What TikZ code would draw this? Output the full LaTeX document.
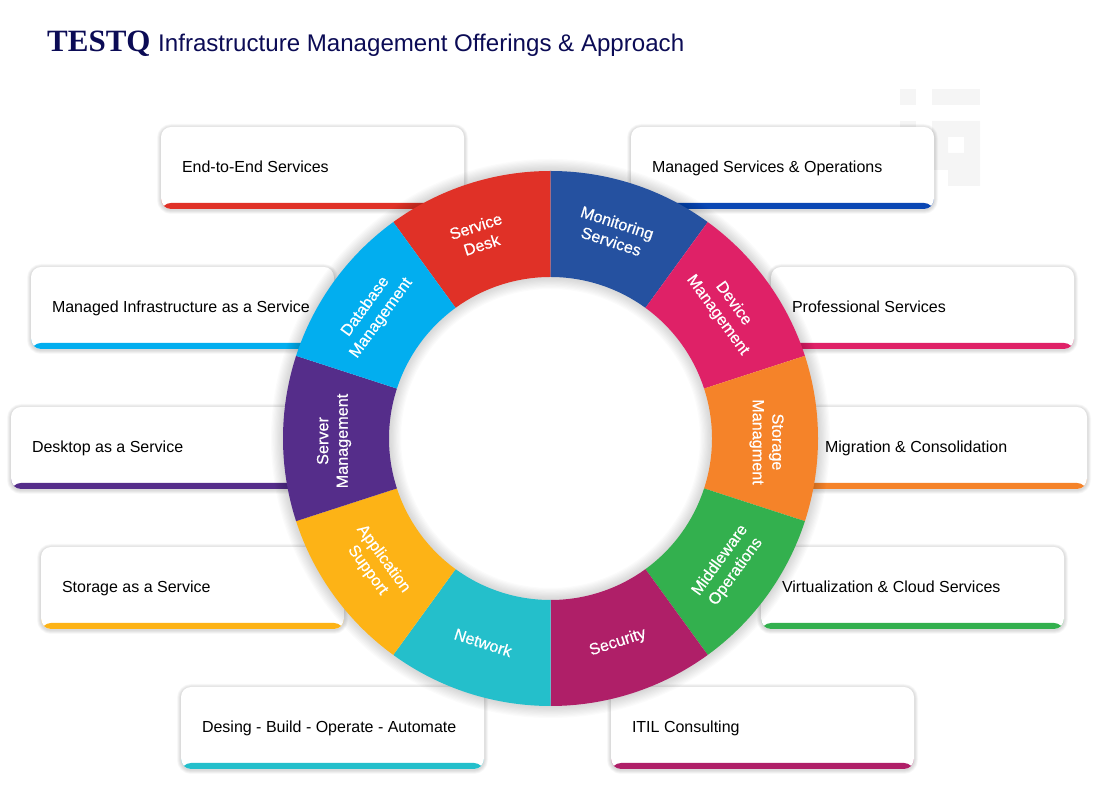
\documentclass[tikz,border=0pt]{standalone}
\usepackage{fontspec}
\setmainfont{Liberation Sans}
\newfontfamily\titlefont{Liberation Serif}
\newfontfamily\ringfont[RawFeature={embolden=0.5}]{Liberation Sans}
\definecolor{navytext}{HTML}{0B0B55}
\definecolor{deskred}{HTML}{E03127}
\definecolor{monitorblue}{HTML}{2551A0}
\definecolor{stripeblue}{HTML}{0A47B4}
\definecolor{devicepink}{HTML}{DF2167}
\definecolor{storageorange}{HTML}{F58329}
\definecolor{middlegreen}{HTML}{33B04E}
\definecolor{securityplum}{HTML}{AF1F68}
\definecolor{networkteal}{HTML}{24BFCB}
\definecolor{appamber}{HTML}{FDB316}
\definecolor{serverviolet}{HTML}{552D8A}
\definecolor{databasesky}{HTML}{02AEEF}
\definecolor{markgray}{HTML}{F5F5F5}
\tikzset{
  cardbox/.style={draw=none, fill=white, rounded corners=10pt, minimum height=82pt,
    inner xsep=21pt, inner ysep=0pt, align=flush left, text=black,
    text height=13pt, text depth=3pt,
    font=\fontsize{16}{18}\selectfont,
    path picture={\fill[#1] ([yshift=6pt]path picture bounding box.south west) rectangle (path picture bounding box.south east);}},
  cardshadow/.style={draw=black, opacity=0.018, rounded corners=10pt, minimum height=82pt, inner sep=0pt},
  ringlabel/.style={text=white, align=center, font=\ringfont\fontsize{16.2}{19.5}\selectfont}
}
\begin{document}
\begin{tikzpicture}[x=1pt, y=1pt]
        \useasboundingbox (0,0) rectangle (1100,800);

        % Title
        \node[anchor=base west, inner sep=0pt, text=navytext, font=\titlefont\bfseries\fontsize{31}{34}\selectfont] (brand) at (47,748) {TESTQ};
        \node[anchor=base west, inner sep=0pt, text=navytext, font=\fontsize{24.1}{28}\selectfont] (title) at (158,748) {Infrastructure Management Offerings \& Approach};

        % Faint mark, top right
        \fill[markgray] (900,711) rectangle (916,695);
        \fill[markgray] (932,711) rectangle (980,695);
        \fill[markgray] (900,679) rectangle (916,614);
        \fill[markgray, even odd rule] (932,679) -- (980,679) -- (980,614) -- (948,614) -- (948,630) -- (932,630) -- cycle
            (948,663) rectangle (964,647);

        % Cards
        \foreach \nam/\cx/\cy/\w/\col/\txt in {
            endtoend/312.5/632/303/deskred/{End-to-End Services},
            infra/182.5/492/303/databasesky/{Managed Infrastructure as a Service},
            desktop/162.5/352/303/serverviolet/{Desktop as a Service},
            storage/192.5/212/303/appamber/{Storage as a Service},
            desing/332.5/72/303/networkteal/{Desing - Build - Operate - Automate},
            managed/782.5/632/303/stripeblue/{Managed Services \& Operations},
            professional/922.5/492/303/devicepink/{Professional Services},
            migration/945.5/352/283/storageorange/{Migration \& Consolidation},
            virtual/912.5/212/303/middlegreen/{Virtualization \& Cloud Services},
            itil/762.5/72/303/securityplum/{ITIL Consulting}} {
            \foreach \s in {1,2,...,8} {
                \node[cardshadow, minimum width=\w pt, line width=\s pt] at (\cx,\cy-1) {};
            }
            \pgfmathsetmacro{\tw}{\w-42}
            \node[cardbox=\col, text width=\tw pt] (\nam) at (\cx,\cy) {\txt};
        }

        % Ring
        \begin{scope}[shift={(550.5,361.5)}]
            % soft shadow round the ring
            \foreach \s in {1,2,...,10} {
                \draw[black, opacity=0.014, line width=2.4*\s pt] (0,0) circle[radius=267.5pt];
                \draw[black, opacity=0.014, line width=2.4*\s pt] (0,0) circle[radius=161.5pt];
            }
            \foreach \a/\col/\rot/\nudgex/\nudgey/\nam/\txt in {
                108/deskred/18/-5.5/-1/desk/{Service\\Desk},
                72/monitorblue/-18/-2.5/2.5/monitoring/{Monitoring\\Services},
                36/devicepink/-54/1.5/3/device/{Device\\Management},
                0/storageorange/-90/1.5/-3.5/storagemgmt/{Storage\\Managment},
                -36/middlegreen/54/4/-1.5/middleware/{Middleware\\Operations},
                -72/securityplum/18/1/0/security/{Security},
                -108/networkteal/-18/-1/0/network/{Network},
                -144/appamber/-54/-1.5/0/application/{Application\\Support},
                180/serverviolet/90/-2/-2.5/server/{Server\\Management},
                144/databasesky/54/-3.5/0/database/{Database\\Management}} {
                \fill[\col] (\a-18:267.5pt) arc[start angle=\a-18, end angle=\a+18, radius=267.5pt]
                    -- (\a+18:161.5pt) arc[start angle=\a+18, end angle=\a-18, radius=161.5pt] -- cycle;
                \node[ringlabel, xshift=\nudgex pt, yshift=\nudgey pt, rotate=\rot] (\nam) at (\a:214.5pt) {\txt};
            }
        \end{scope}
\end{tikzpicture}
\end{document}
